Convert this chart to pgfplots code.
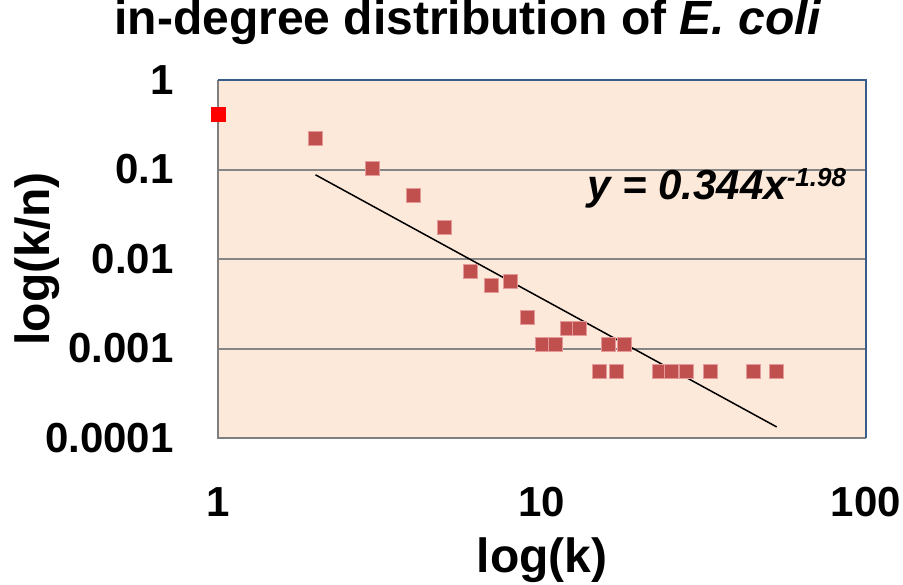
\documentclass[border=0pt]{standalone}
\usepackage{fontspec}
\setmainfont{Liberation Sans}
\usepackage{pgfplots}
\pgfplotsset{compat=1.18}
\definecolor{bgpeach}{HTML}{FDE9D9}
\definecolor{mk}{HTML}{C0504D}
\definecolor{mkedge}{HTML}{E39A98}
\definecolor{gridgray}{HTML}{868686}
\definecolor{framegray}{HTML}{7F7F7F}
\definecolor{frameblue}{HTML}{385D8A}
\begin{document}
\begin{tikzpicture}
\begin{axis}[
  xmode=log, ymode=log,
  scale only axis, width=324pt, height=179pt,
  xmin=1, xmax=100, ymin=0.0001, ymax=1,
  xtick={1,10,100}, xticklabels={1,10,100},
  ytick={1,0.1,0.01,0.001,0.0001}, yticklabels={1,0.1,0.01,0.001,0.0001},
  tick style={draw=none},
  ymajorgrids, grid style={gridgray, line width=1pt},
  axis line style={draw=none},
  axis background/.style={fill=bgpeach},
  clip=false,
  ticklabel style={font=\fontsize{21}{21}\selectfont\bfseries},
  xticklabel style={anchor=base, yshift=-39pt},
  yticklabel style={anchor=east, inner sep=0pt, xshift=-22pt},
  title={in-degree distribution of \textit{E. coli}},
  title style={at={(axis description cs:0.386,1)}, anchor=base, yshift=16.5pt, font=\fontsize{24}{24}\selectfont\bfseries, inner sep=0pt},
  xlabel={log(k)}, ylabel={log(k/n)},
  label style={font=\fontsize{24}{24}\selectfont\bfseries, inner sep=0pt},
  xlabel style={at={(axis description cs:0.5,0)}, anchor=base, yshift=-67pt},
  ylabel style={at={([xshift=-84pt]axis description cs:0,0.5)}, anchor=base},
]
\coordinate (bl) at (rel axis cs:0,0);
\coordinate (tr) at (rel axis cs:1,1);
\draw[framegray, line width=1pt] (rel axis cs:0,1) -- (rel axis cs:0,0) -- (rel axis cs:1,0);
\draw[frameblue, line width=1pt] (rel axis cs:0,1) -- (rel axis cs:1,1) -- (rel axis cs:1,0);
\addplot[black, line width=0.75pt] coordinates {(2,0.0872) (53,0.000133)};
\addplot[only marks, mark=square*, mark size=3.5pt, mark options={fill=mk, draw=mkedge, line width=0.4pt}] coordinates {
(2,0.225) (3,0.104) (4,0.0519) (5,0.0228) (6,0.00734) (7,0.00503) (8,0.00563)
(9,0.00225) (10,0.00111) (11,0.00111) (12,0.00168) (13,0.00168) (15,0.00056)
(16,0.00111) (17,0.00056) (18,0.00111) (23,0.00056) (25,0.00056) (28,0.00056)
(33,0.00056) (45,0.00056) (53,0.00056)
};
\addplot[only marks, mark=square*, mark size=3.5pt, mark options={fill=red, draw=red}] coordinates {(1,0.417)};
\node[anchor=base west, inner sep=0pt, font=\fontsize{21}{21}\selectfont\bfseries\itshape] at (axis description cs:0.569,0.665) {y = 0.344x\raisebox{6.5pt}{\fontsize{13}{13}\selectfont -1.98}};
\end{axis}
\pgfresetboundingbox
\path[use as bounding box] ([xshift=-109pt,yshift=-73pt]bl) rectangle ([xshift=18.5pt,yshift=40pt]tr);
\end{tikzpicture}
\end{document}
